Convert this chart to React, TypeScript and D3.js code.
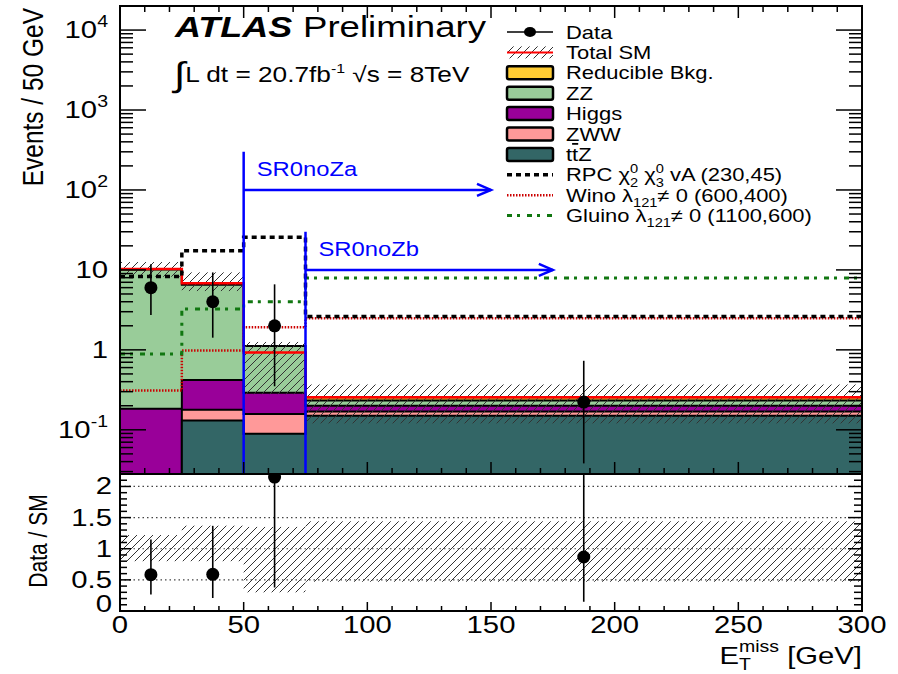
import React, { useEffect } from 'react';
import * as d3 from 'd3';

// Bin edges in E_T^miss [GeV]
const binEdges = [0, 25, 50, 75, 300];
const binCenters = [12.5, 37.5, 62.5, 187.5];

// SM background contributions per bin (events / 50 GeV)
const ttZ = [0.01, 0.131, 0.089, 0.15];
const zww = [0.01, 0.047, 0.069, 0.02];
const higgs = [0.163, 0.242, 0.132, 0.03];
const zz = [9.9, 6.08, 0.83, 0.033];
const reducible = [0.2, 0.3, -0.19, 0.023];

// Observed data with asymmetric (Poisson) intervals
const dataValues = [6, 4, 2, 0.222];
const dataLow = [2.73, 1.42, 0.35, 0.038];
const dataHigh = [11.8, 9.3, 6.6, 0.73];

// Relative uncertainty band on the total SM prediction
const bandLow = [0.8, 0.8, 0.3, 0.47];
const bandHigh = [1.22, 1.37, 1.35, 1.44];

// Signal benchmark models
const rpc = [8.25, 17.4, 25.6, 2.61];
const wino = [0.31, 0.98, 1.92, 2.48];
const gluino = [0.89, 3.25, 4.0, 7.94];

// Axis ticks
const xTicks = [0, 50, 100, 150, 200, 250, 300];
const mainYTicks = [0.1, 1, 10, 100, 1000, 10000];
const ratioTicks = [0, 0.5, 1, 1.5, 2];
const ratioGrid = [0.5, 1, 1.5, 2];

// Signal regions: name, lower cut, arrow end, arrow level, line top
const regionNames = ['SR0noZa', 'SR0noZb'];
const regionStart = [50, 75];
const regionEnd = [150, 175];
const regionArrow = [100, 10];
const regionTop = [300, 30];

const colors = {
  reducible: '#ffcc33',
  zz: '#99cc99',
  higgs: '#990099',
  zww: '#ff9999',
  ttZ: '#336666',
};

const FONT = "'Liberation Sans', Arial, Helvetica, sans-serif";
const SX = 1.22;

const W = 898;
const H = 674;
const L = 120;
const R = 862;
const TOP = 6;
const MID = 474;
const BOT = 611;

const x = d3.scaleLinear().domain([0, 300]).range([L, R]);
const yM = d3.scaleLog().domain([0.028, 2e4]).range([MID, TOP]).clamp(true);
const yR = d3.scaleLinear().domain([0, 2.2]).range([BOT, MID]);

type TProps = {
  x: number;
  y: number;
  size?: number;
  anchor?: string;
  fill?: string;
  weight?: string | number;
  italic?: boolean;
  rot?: number;
  baseline?: string;
  children: React.ReactNode;
};

function T({ x, y, size = 24, anchor = 'start', fill = '#000', weight, italic, rot, baseline, children }: TProps) {
  return (
    <text
      transform={`translate(${x},${y}) scale(${SX},1)${rot ? ` rotate(${rot})` : ''}`}
      fontSize={size}
      fontFamily={FONT}
      textAnchor={anchor}
      fill={fill}
      fontWeight={weight}
      fontStyle={italic ? 'italic' : undefined}
      dominantBaseline={baseline}
    >
      {children}
    </text>
  );
}

function cumulative(layers: number[][]) {
  const out: number[][] = [];
  let acc = layers[0].map(() => 0);
  for (const l of layers) {
    acc = acc.map((a, i) => a + l[i]);
    out.push(acc.slice());
  }
  return out;
}

const stepPoints = (vals: number[]): [number, number][] =>
  binEdges.map((e, i) => [e, vals[Math.min(i, vals.length - 1)]]);

const stepLine = d3
  .line<[number, number]>()
  .x((d) => x(d[0]))
  .y((d) => yM(d[1]))
  .curve(d3.curveStepAfter);

const stepArea = d3
  .area<[number, number]>()
  .x((d) => x(d[0]))
  .y0(MID + 2)
  .y1((d) => yM(d[1]))
  .curve(d3.curveStepAfter);

export default function App() {
  useEffect(() => {
    document.body.style.margin = '0';
  }, []);

  const layers = [ttZ, zww, higgs, zz, reducible];
  const layerColors = [colors.ttZ, colors.zww, colors.higgs, colors.zz, colors.reducible];
  const cum = cumulative(layers);
  const total = cum[cum.length - 1];
  const ratio = dataValues.map((d, i) => d / total[i]);
  const ratioLo = dataLow.map((d, i) => d / total[i]);
  const ratioHi = dataHigh.map((d, i) => d / total[i]);

  // log-axis minor ticks
  const minorLog: number[] = [];
  for (let e = -2; e <= 4; e++) {
    for (let m = 2; m <= 9; m++) {
      const v = m * Math.pow(10, e);
      if (v > 0.028 && v < 2e4) minorLog.push(v);
    }
  }
  const xMinor = d3.range(0, 301, 10).filter((v) => v % 50 !== 0);
  const ratioMinor = d3.range(0, 22).map((i) => i / 10).filter((v) => Math.abs(v * 2 - Math.round(v * 2)) > 1e-6);

  const legendX0 = 507;
  const legendX1 = 553;
  const legendText = 566;
  const rowY = (i: number) => 32 + i * 20.4;

  const sub = (t: string, size = 12) => (
    <tspan fontSize={size} dy={5}>
      {t}
    </tspan>
  );

  const legendRows: { kind: string; color?: string; label: React.ReactNode }[] = [
    { kind: 'data', label: 'Data' },
    { kind: 'total', label: 'Total SM' },
    { kind: 'fill', color: colors.reducible, label: 'Reducible Bkg.' },
    { kind: 'fill', color: colors.zz, label: 'ZZ' },
    { kind: 'fill', color: colors.higgs, label: 'Higgs' },
    { kind: 'fill', color: colors.zww, label: 'ZWW' },
    {
      kind: 'fill',
      color: colors.ttZ,
      label: (
        <>
          t<tspan style={{ textDecoration: 'overline' }}>t</tspan>Z
        </>
      ),
    },
    {
      kind: 'rpc',
      label: (
        <>
          RPC χ
          <tspan fontSize={12} dy={-8}>0</tspan>
          <tspan fontSize={12} dx={-6.7} dy={14}>2</tspan>
          <tspan dy={-6}> χ</tspan>
          <tspan fontSize={12} dy={-8}>0</tspan>
          <tspan fontSize={12} dx={-6.7} dy={14}>3</tspan>
          <tspan dy={-6}> vA (230,45)</tspan>
        </>
      ),
    },
    {
      kind: 'wino',
      label: (
        <>
          Wino λ{sub('121')}
          <tspan dy={-5}>≠ 0 (600,400)</tspan>
        </>
      ),
    },
    {
      kind: 'gluino',
      label: (
        <>
          Gluino λ{sub('121')}
          <tspan dy={-5}>≠ 0 (1100,600)</tspan>
        </>
      ),
    },
  ];

  return (
    <svg
      width={W}
      height={H}
      viewBox={`0 0 ${W} ${H}`}
      style={{ position: 'absolute', left: 0, top: 0, display: 'block', background: '#fff' }}
    >
      <defs>
        <pattern id="hatch" patternUnits="userSpaceOnUse" width={8} height={8}>
          <path d="M-2,2 l4,-4 M0,8 l8,-8 M6,10 l4,-4" stroke="#333" strokeWidth={1} />
        </pattern>
        <clipPath id="mainClip">
          <rect x={L} y={TOP} width={R - L} height={MID - TOP} />
        </clipPath>
        <clipPath id="ratioClip">
          <rect x={L} y={MID} width={R - L} height={BOT - MID} />
        </clipPath>
      </defs>
      <rect x={0} y={0} width={W} height={H} fill="#fff" />

      {/* ---------- main panel ---------- */}
      <g clipPath="url(#mainClip)">
        {/* stacked backgrounds, drawn from the top of the stack down */}
        {cum
          .map((c, i) => ({ c, color: layerColors[i] }))
          .reverse()
          .map(({ c, color }, k) => (
            <path
              key={k}
              d={stepArea(stepPoints(c.map((v) => Math.max(v, 1e-4)))) || ''}
              fill={color}
              stroke="#000"
              strokeWidth={2}
            />
          ))}

        {/* uncertainty band */}
        {total.map((t, i) => (
          <rect
            key={i}
            x={x(binEdges[i])}
            width={x(binEdges[i + 1]) - x(binEdges[i])}
            y={yM(t * bandHigh[i])}
            height={yM(t * bandLow[i]) - yM(t * bandHigh[i])}
            fill="url(#hatch)"
          />
        ))}

        {/* total SM */}
        <path d={stepLine(stepPoints(total)) || ''} fill="none" stroke="#ff0000" strokeWidth={2.5} />

        {/* signal models */}
        <path d={stepLine(stepPoints(wino)) || ''} fill="none" stroke="#cc0000" strokeWidth={2.5} strokeDasharray="1.5 1.5" />
        <path d={stepLine(stepPoints(gluino)) || ''} fill="none" stroke="#117711" strokeWidth={3} strokeDasharray="5 5 3 7" />
        <path d={stepLine(stepPoints(rpc)) || ''} fill="none" stroke="#000" strokeWidth={3.5} strokeDasharray="5 4" />

        {/* data */}
        {dataValues.map((d, i) => (
          <g key={i}>
            <line x1={x(binCenters[i])} x2={x(binCenters[i])} y1={yM(dataLow[i])} y2={yM(dataHigh[i])} stroke="#000" strokeWidth={1.6} />
            <circle cx={x(binCenters[i])} cy={yM(d)} r={6.5} fill="#000" />
          </g>
        ))}
      </g>

      {/* signal region markers */}
      {regionNames.map((name, i) => {
        const xs = x(regionStart[i]);
        const xe = x(regionEnd[i]);
        const ya = yM(regionArrow[i]);
        return (
          <g key={name} stroke="#0000ff" strokeWidth={2.5} fill="none">
            <line x1={xs} x2={xs} y1={yM(regionTop[i])} y2={MID} />
            <line x1={xs} x2={xe} y1={ya} y2={ya} />
            <path d={`M${xe - 14},${ya - 6} L${xe},${ya} L${xe - 14},${ya + 6}`} />
            <g stroke="none">
              <T x={xs + 13} y={ya - 14} size={19.5} fill="#0000ff">
                {name}
              </T>
            </g>
          </g>
        );
      })}

      {/* main frame and ticks */}
      <rect x={L} y={TOP} width={R - L} height={MID - TOP} fill="none" stroke="#000" strokeWidth={2} />
      <g stroke="#000" strokeWidth={1.5}>
        {mainYTicks.map((v) => (
          <g key={v}>
            <line x1={L} x2={L + 26} y1={yM(v)} y2={yM(v)} />
            <line x1={R} x2={R - 26} y1={yM(v)} y2={yM(v)} />
          </g>
        ))}
        {minorLog.map((v) => (
          <g key={v}>
            <line x1={L} x2={L + 13} y1={yM(v)} y2={yM(v)} />
            <line x1={R} x2={R - 13} y1={yM(v)} y2={yM(v)} />
          </g>
        ))}
        {xTicks.map((v) => (
          <g key={v}>
            <line x1={x(v)} x2={x(v)} y1={MID} y2={MID - 12} />
            <line x1={x(v)} x2={x(v)} y1={TOP} y2={TOP + 12} />
          </g>
        ))}
        {xMinor.map((v) => (
          <g key={v}>
            <line x1={x(v)} x2={x(v)} y1={MID} y2={MID - 6} />
            <line x1={x(v)} x2={x(v)} y1={TOP} y2={TOP + 6} />
          </g>
        ))}
      </g>

      {/* main y tick labels */}
      {mainYTicks.map((v) => {
        const e = Math.round(Math.log10(v));
        return (
          <T key={v} x={108} y={yM(v) + 8} size={24} anchor="end">
            {e === 0 ? '1' : e === 1 ? '10' : (
              <>
                10
                <tspan fontSize={16} dy={-11}>
                  {e}
                </tspan>
              </>
            )}
          </T>
        );
      })}
      <T x={43} y={8} size={24.5} anchor="end" rot={-90}>
        Events / 50 GeV
      </T>

      {/* ATLAS label */}
      <T x={175} y={37} size={29.5} weight="bold" italic>
        ATLAS
      </T>
      <T x={303} y={37} size={30}>
        Preliminary
      </T>
      <T x={174} y={82} size={21.5}>
        <tspan fontSize={34} dy={4}>∫</tspan>
        <tspan dy={-4}>L dt = 20.7fb</tspan>
        <tspan fontSize={13} dy={-9}>-1</tspan>
        <tspan dy={9}>  √s = 8TeV</tspan>
      </T>

      {/* legend */}
      {legendRows.map((row, i) => {
        const cy = rowY(i);
        let sym: React.ReactNode = null;
        if (row.kind === 'data') {
          sym = (
            <g>
              <line x1={legendX0} x2={legendX1} y1={cy} y2={cy} stroke="#000" strokeWidth={1.6} />
              <ellipse cx={(legendX0 + legendX1) / 2} cy={cy} rx={6} ry={5} fill="#000" />
            </g>
          );
        } else if (row.kind === 'total') {
          sym = (
            <g>
              <rect x={legendX0} y={cy - 6} width={legendX1 - legendX0} height={12} fill="url(#hatch)" />
              <line x1={legendX0} x2={legendX1} y1={cy} y2={cy} stroke="#ff0000" strokeWidth={2} />
            </g>
          );
        } else if (row.kind === 'fill') {
          sym = (
            <rect
              x={legendX0}
              y={cy - 6.5}
              width={legendX1 - legendX0}
              height={13}
              rx={2}
              fill={row.color}
              stroke="#000"
              strokeWidth={2.5}
            />
          );
        } else if (row.kind === 'rpc') {
          sym = <line x1={legendX0} x2={legendX1} y1={cy} y2={cy} stroke="#000" strokeWidth={3.5} strokeDasharray="5 4" />;
        } else if (row.kind === 'wino') {
          sym = <line x1={legendX0} x2={legendX1} y1={cy} y2={cy} stroke="#cc0000" strokeWidth={2.5} strokeDasharray="1.5 1.5" />;
        } else {
          sym = <line x1={legendX0} x2={legendX1} y1={cy} y2={cy} stroke="#117711" strokeWidth={3} strokeDasharray="5 5 3 7" />;
        }
        return (
          <g key={i}>
            {sym}
            <T x={legendText} y={cy + 6.5} size={18}>
              {row.label}
            </T>
          </g>
        );
      })}

      {/* ---------- ratio panel ---------- */}
      <g clipPath="url(#ratioClip)">
        {total.map((_, i) => (
          <rect
            key={i}
            x={x(binEdges[i])}
            width={x(binEdges[i + 1]) - x(binEdges[i])}
            y={yR(bandHigh[i])}
            height={yR(bandLow[i]) - yR(bandHigh[i])}
            fill="url(#hatch)"
          />
        ))}
        {ratioGrid.map((v) => (
          <line key={v} x1={L} x2={R} y1={yR(v)} y2={yR(v)} stroke="#444" strokeWidth={1.2} strokeDasharray="1.5 3" />
        ))}
        {ratio.map((r, i) => (
          <g key={i}>
            <line x1={x(binCenters[i])} x2={x(binCenters[i])} y1={yR(ratioLo[i])} y2={yR(ratioHi[i])} stroke="#000" strokeWidth={1.6} />
            <circle cx={x(binCenters[i])} cy={yR(r)} r={6.5} fill="#000" />
          </g>
        ))}
      </g>
      <rect x={L} y={MID} width={R - L} height={BOT - MID} fill="none" stroke="#000" strokeWidth={2} />
      <g stroke="#000" strokeWidth={1.5}>
        {ratioTicks.map((v) => (
          <g key={v}>
            <line x1={L} x2={L + 11} y1={yR(v)} y2={yR(v)} />
            <line x1={R} x2={R - 14} y1={yR(v)} y2={yR(v)} />
          </g>
        ))}
        {ratioMinor.map((v) => (
          <g key={v}>
            <line x1={L} x2={L + 7} y1={yR(v)} y2={yR(v)} />
            <line x1={R} x2={R - 8} y1={yR(v)} y2={yR(v)} />
          </g>
        ))}
        {xTicks.map((v) => (
          <line key={v} x1={x(v)} x2={x(v)} y1={BOT} y2={BOT - 9} />
        ))}
        {xMinor.map((v) => (
          <line key={v} x1={x(v)} x2={x(v)} y1={BOT} y2={BOT - 5} />
        ))}
      </g>
      {ratioTicks.map((v) => (
        <T key={v} x={112} y={yR(v) + 8 - (v === 0 ? 7 : 0)} size={24} anchor="end">
          {String(v)}
        </T>
      ))}
      <T x={47} y={541} size={21} anchor="middle" rot={-90}>
        Data / SM
      </T>

      {/* x axis labels */}
      {xTicks.map((v) => (
        <T key={v} x={x(v)} y={633} size={24} anchor="middle">
          {String(v)}
        </T>
      ))}
      <T x={862} y={664} size={24} anchor="end">
        E
        <tspan fontSize={16} dy={6}>T</tspan>
        <tspan fontSize={16} dx={-9.8} dy={-18}>miss</tspan>
        <tspan dy={12}> [GeV]</tspan>
      </T>
    </svg>
  );
}
